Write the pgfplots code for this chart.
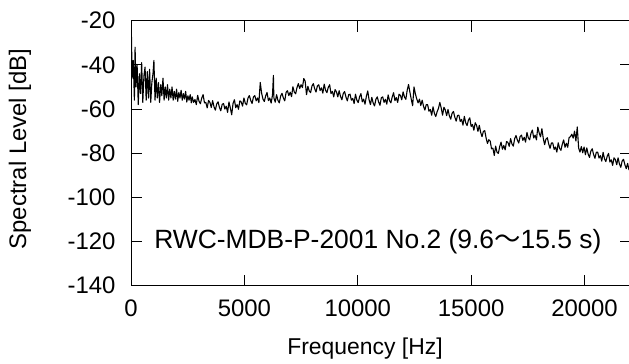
\documentclass[border=0pt]{standalone}
\usepackage{fontspec}
\setmainfont{Liberation Sans}
\newfontfamily\cjk{Noto Sans CJK JP}
\usepackage{pgfplots}
\pgfplotsset{compat=1.18}
\begin{document}
\begin{tikzpicture}
\begin{axis}[
  at={(131bp,78.3bp)}, anchor=south west,
  scale only axis, width=500bp, height=265bp,
  xmin=0, xmax=22050, ymin=-140, ymax=-20,
  xtick={0,5000,10000,15000,20000},
  ytick={-140,-120,-100,-80,-60,-40,-20},
  scaled x ticks=false,
  tick align=inside, major tick length=11bp,
  axis line style={line width=1bp}, every tick/.style={line width=1bp,black},
  /pgf/number format/assume math mode=true,
  /pgf/number format/1000 sep={},
  tick label style={font=\fontsize{24}{28}\selectfont},
  yticklabel style={xshift=-12bp},
  xticklabel style={yshift=-11bp},
  xlabel={Frequency [Hz]},
  ylabel={Spectral Level [dB]},
  xlabel style={font=\fontsize{23}{27}\selectfont, at={(axis description cs:0.468,-0.239)}, anchor=center},
  ylabel style={font=\fontsize{24}{28}\selectfont, at={(axis description cs:-0.222,0.516)}, anchor=center, rotate=0},
  clip=true,
]
\addplot[black, line width=1.1bp, line join=round] coordinates {
(0,-15)(50,-46)(100,-38)(150,-56)(180,-32)(220,-50)(270,-40)(320,-58)(370,-44)(420,-53)
(470,-39)(520,-57)(570,-45)(620,-41)(670,-56)(720,-43)(770,-55)(820,-42)(870,-57)(920,-48)
(970,-44)(1010,-38)(1060,-56)(1110,-46)(1160,-55)(1210,-48)(1260,-57)(1310,-49)(1360,-54)(1410,-46)
(1460,-56)(1510,-50)(1560,-55)(1610,-49)(1660,-56)(1710,-51)(1760,-55)(1810,-50)(1860,-56)(1910,-52)
(1960,-55.5)(2010,-51)(2060,-56.5)(2110,-52.5)(2160,-55)(2210,-51.5)(2260,-56)(2310,-53)(2360,-55.5)(2410,-52)
(2460,-56.8)(2510,-54)(2560,-56)(2610,-53.5)(2660,-57.2)
(2700,-54.5)(2760,-57.0)(2820,-55.7)(2880,-58.0)(2940,-53.8)(3000,-56.5)(3060,-57.6)(3120,-55.0)(3180,-53.5)(3240,-57.2)
(3300,-57.0)(3360,-59.5)(3420,-56.1)(3480,-57.0)(3540,-59.3)(3600,-56.2)(3660,-59.0)(3720,-60.5)(3780,-57.7)(3840,-56.7)
(3900,-59.3)(3960,-60.8)(4020,-57.9)(4080,-57.5)(4140,-60.0)(4200,-58.7)(4260,-61.5)(4320,-56.8)(4380,-59.5)(4440,-62.6)
(4500,-57.5)(4560,-55.8)(4620,-59.4)(4680,-58.0)(4740,-60.1)(4800,-56.3)(4860,-56.8)(4920,-58.7)(4980,-55.0)(5040,-57.4)
(5100,-58.1)(5160,-55.0)(5220,-53.9)(5280,-56.1)(5340,-57.5)(5400,-54.5)(5460,-53.9)(5520,-56.3)(5580,-55.0)(5640,-57.1)
(5700,-48.0)(5760,-52.8)(5820,-55.5)(5880,-56.6)(5940,-54.0)(6000,-52.5)(6060,-56.2)(6120,-55.0)(6180,-57.3)(6240,-53.7)
(6280,-44.8)(6300,-54.9)(6360,-56.9)(6420,-53.5)(6480,-56.1)(6540,-57.2)(6600,-54.1)(6660,-52.9)(6720,-55.0)(6780,-56.3)
(6840,-52.4)(6900,-51.7)(6960,-53.9)(7020,-52.4)(7080,-54.4)(7140,-49.9)(7200,-52.3)(7260,-53.1)(7320,-50.3)(7380,-48.5)
(7440,-50.7)(7500,-49.0)(7560,-50.3)(7620,-46.2)(7680,-47.4)(7740,-53.5)(7800,-49.7)(7860,-51.8)(7920,-52.6)(7980,-49.6)
(8040,-48.5)(8100,-50.8)(8160,-52.3)(8220,-49.5)(8280,-49.0)(8340,-51.6)(8400,-50.4)(8460,-52.8)(8520,-48.7)(8580,-51.5)
(8640,-52.6)(8700,-50.2)(8760,-49.0)(8820,-53.0)(8880,-52.0)(8940,-54.5)(9000,-51.2)(9060,-52.2)(9120,-54.5)(9180,-51.7)
(9240,-54.3)(9300,-55.8)(9360,-53.0)(9420,-52.1)(9480,-54.6)(9540,-56.3)(9600,-53.5)(9660,-53.3)(9720,-56.0)(9780,-55.2)
(9840,-57.5)(9900,-53.3)(9960,-56.0)(10020,-57.1)(10080,-54.5)(10140,-53.0)(10200,-56.7)(10260,-55.5)(10320,-57.8)(10380,-54.2)
(10440,-51.8)(10500,-55.9)(10560,-58.0)(10620,-54.7)(10680,-57.3)(10740,-58.6)(10800,-55.6)(10860,-54.5)(10920,-56.8)(10980,-58.3)
(11040,-54.9)(11100,-54.5)(11160,-57.0)(11220,-55.6)(11280,-57.8)(11340,-53.6)(11400,-56.2)(11460,-57.2)(11520,-54.5)(11580,-52.6)
(11640,-56.2)(11700,-54.8)(11760,-57.0)(11820,-53.3)(11880,-53.8)(11940,-55.8)(12000,-52.2)(12060,-54.6)(12120,-55.6)(12180,-51.5)
(12240,-48.9)(12300,-52.4)(12360,-55.6)(12420,-58.5)(12480,-50.0)(12540,-53.1)(12600,-55.4)(12660,-57.2)(12720,-55.5)(12780,-58.4)
(12840,-56.0)(12900,-58.7)(12960,-60.5)(13020,-58.0)(13080,-58.0)(13140,-61.0)(13200,-60.2)(13260,-62.8)(13320,-59.0)(13380,-62.0)
(13440,-63.4)(13500,-61.2)(13560,-59.7)(13620,-57.0)(13680,-59.5)(13740,-62.8)(13800,-59.2)(13860,-60.4)(13920,-63.0)(13980,-60.2)
(14040,-63.1)(14100,-64.6)(14160,-61.9)(14220,-61.1)(14280,-63.7)(14340,-65.5)(14400,-62.9)(14460,-62.8)(14520,-65.6)(14580,-64.7)
(14640,-67.3)(14700,-63.3)(14760,-66.2)(14820,-67.5)(14880,-65.0)(14940,-64.0)(15000,-67.9)(15060,-67.0)(15120,-69.6)(15180,-66.2)
(15240,-67.4)(15300,-70.1)(15360,-67.4)(15420,-70.6)(15480,-72.5)(15540,-70.1)(15600,-69.8)(15660,-73.1)(15720,-75.6)(15780,-73.9)
(15840,-74.5)(15900,-78.0)(15960,-77.7)(16020,-81.0)(16080,-76.8)(16140,-79.5)(16200,-80.1)(16260,-77.0)(16320,-75.0)(16380,-78.2)
(16440,-76.5)(16500,-78.5)(16560,-74.7)(16620,-75.1)(16680,-76.9)(16740,-73.4)(16800,-75.8)(16860,-76.8)(16920,-73.4)(16980,-72.0)
(17040,-74.1)(17100,-75.4)(17160,-72.4)(17220,-71.8)(17280,-74.2)(17340,-72.8)(17400,-75.0)(17460,-70.6)(17520,-73.0)(17580,-73.9)
(17640,-71.0)(17700,-69.5)(17760,-73.1)(17820,-71.8)(17880,-74.0)(17940,-68.2)(18000,-70.8)(18060,-72.6)(18120,-68.9)(18180,-73.2)
(18240,-76.1)(18300,-73.6)(18360,-73.0)(18420,-75.8)(18480,-77.8)(18540,-75.4)(18600,-75.4)(18660,-78.3)(18720,-77.2)(18780,-79.5)
(18840,-75.3)(18900,-77.8)(18960,-78.7)(19020,-75.9)(19080,-74.0)(19140,-77.3)(19200,-75.5)(19260,-77.3)(19320,-72.9)(19380,-72.5)
(19440,-71.4)(19500,-73.2)(19560,-70.0)(19620,-74.5)(19680,-68.1)(19740,-77.6)(19800,-79.5)(19860,-77.0)(19920,-79.8)(19980,-77.2)
(20040,-80.7)(20100,-77.6)(20160,-80.4)(20220,-81.9)(20280,-79.0)(20340,-78.0)(20400,-80.6)(20460,-82.3)(20520,-79.6)(20580,-79.5)
(20640,-82.2)(20700,-81.1)(20760,-83.6)(20820,-79.6)(20880,-82.5)(20940,-83.8)(21000,-81.4)(21060,-80.1)(21120,-84.0)(21180,-83.0)
(21240,-85.5)(21300,-82.1)(21360,-82.9)(21420,-85.2)(21480,-82.1)(21540,-84.9)(21600,-86.4)(21660,-83.5)(21720,-82.8)(21780,-85.2)
(21840,-87.0)(21900,-84.6)(21960,-87.5)(22020,-84.0)(22050,-85.5)
};
\node[anchor=east, font=\fontsize{26.5}{30}\selectfont, inner sep=0pt] at (axis cs:20750,-120) {RWC-MDB-P-2001 No.2 (9.6{\cjk 〜}15.5 s)};
\end{axis}
\pgfresetboundingbox
\path (0,0) rectangle (629bp,364bp);
\end{tikzpicture}
\end{document}
